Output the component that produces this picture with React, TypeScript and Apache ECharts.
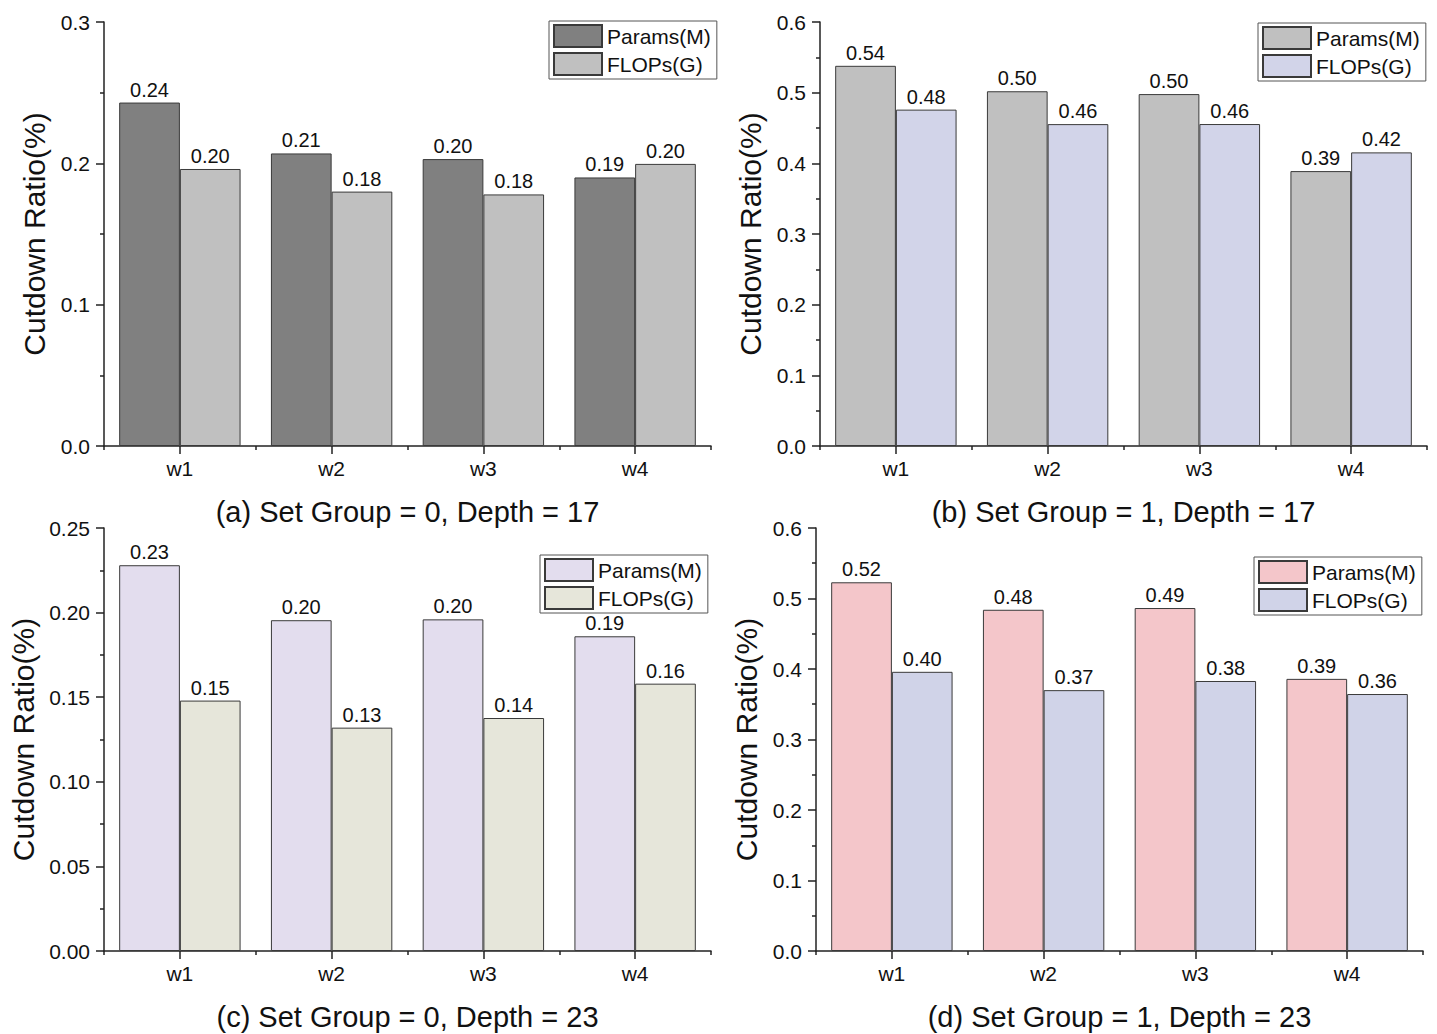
import React, { useEffect, useRef } from "react";
import * as echarts from "echarts";

const FONT = "'Liberation Sans', Arial, sans-serif";

const categories = ["w1", "w2", "w3", "w4"];
const seriesNames = ["Params(M)", "FLOPs(G)"];

const paramsA = [0.243, 0.207, 0.203, 0.19];
const flopsA = [0.196, 0.18, 0.178, 0.1996];
const paramsB = [0.538, 0.502, 0.498, 0.389];
const flopsB = [0.476, 0.4555, 0.4556, 0.4155];
const paramsC = [0.228, 0.1955, 0.196, 0.186];
const flopsC = [0.148, 0.132, 0.1377, 0.158];
const paramsD = [0.523, 0.484, 0.4865, 0.386];
const flopsD = [0.396, 0.37, 0.383, 0.3645];

const titles = [
  "(a) Set Group = 0, Depth = 17",
  "(b) Set Group = 1, Depth = 17",
  "(c) Set Group = 0, Depth = 23",
  "(d) Set Group = 1, Depth = 23",
];

type Panel = {
  left: number; top: number; width: number; height: number;
  gridLeft: number; gridTop: number; gridHeight: number;
  max: number; interval: number; decimals: number; nameGap: number;
  legendLeft: number; legendTop: number; titleY: number;
  colors: string[]; params: number[]; flops: number[]; title: string;
};

const panels: Panel[] = [
  { left: 0, top: 0, width: 718, height: 535, gridLeft: 104, gridTop: 22, gridHeight: 424, max: 0.3, interval: 0.1, decimals: 1, nameGap: 52,
    legendLeft: 549, legendTop: 21, titleY: 512, colors: ["#808080", "#c0c0c0"], params: paramsA, flops: flopsA, title: titles[0] },
  { left: 718, top: 0, width: 719, height: 535, gridLeft: 102, gridTop: 22, gridHeight: 424, max: 0.6, interval: 0.1, decimals: 1, nameGap: 50,
    legendLeft: 540, legendTop: 23, titleY: 512, colors: ["#c0c0c0", "#d2d4e9"], params: paramsB, flops: flopsB, title: titles[1] },
  { left: 0, top: 500, width: 718, height: 534, gridLeft: 104, gridTop: 28, gridHeight: 423, max: 0.25, interval: 0.05, decimals: 2, nameGap: 62,
    legendLeft: 540, legendTop: 55, titleY: 1017, colors: ["#e3ddee", "#e6e6da"], params: paramsC, flops: flopsC, title: titles[2] },
  { left: 718, top: 500, width: 719, height: 534, gridLeft: 98, gridTop: 28, gridHeight: 423, max: 0.6, interval: 0.1, decimals: 1, nameGap: 51,
    legendLeft: 536, legendTop: 57, titleY: 1017, colors: ["#f4c6ca", "#d0d3e8"], params: paramsD, flops: flopsD, title: titles[3] },
];

const AXIS_COLOR = "#222";
const TEXT_COLOR = "#111";

function buildOption(p: Panel) {
  const gridWidth = 607;
  const lineStyle = { color: AXIS_COLOR, width: 1.5 };
  const makeSeries = (name: string, data: number[], color: string) => ({
    type: "bar",
    name,
    data,
    barGap: "0%",
    barCategoryGap: "20%",
    itemStyle: { color, borderColor: "#3a3a3a", borderWidth: 1 },
    label: {
      show: true,
      position: "top",
      distance: 3,
      fontSize: 20,
      fontFamily: FONT,
      color: TEXT_COLOR,
      formatter: (q: any) => Number(q.value).toFixed(2),
    },
  });
  return {
    animation: false,
    textStyle: { fontFamily: FONT },
    grid: { left: p.gridLeft, top: p.gridTop, width: gridWidth, height: p.gridHeight },
    legend: {
      orient: "vertical",
      left: p.legendLeft,
      top: p.legendTop,
      data: seriesNames,
      itemWidth: 48,
      itemHeight: 22,
      itemGap: 4,
      padding: [3, 6, 3, 4],
      borderColor: "#555",
      borderWidth: 1,
      textStyle: { fontSize: 21, color: TEXT_COLOR, fontFamily: FONT },
      icon: "rect",
    },
    xAxis: [
      {
        type: "category",
        data: categories,
        axisLine: { show: true, lineStyle },
        axisTick: { show: true, alignWithLabel: true, length: 8, lineStyle },
        axisLabel: { fontSize: 21, color: TEXT_COLOR, margin: 12, fontFamily: FONT },
        splitLine: { show: false },
      },
      {
        type: "category",
        data: categories,
        position: "bottom",
        offset: 0,
        axisLine: { show: false },
        axisTick: { show: true, length: 4, lineStyle },
        axisLabel: { show: false },
        splitLine: { show: false },
      },
    ],
    yAxis: {
      type: "value",
      min: 0,
      max: p.max,
      interval: p.interval,
      name: "Cutdown Ratio(%)",
      nameLocation: "middle",
      nameGap: p.nameGap,
      nameTextStyle: { fontSize: 30, color: TEXT_COLOR, fontFamily: FONT },
      axisLine: { show: true, lineStyle },
      axisTick: { show: true, length: 8, lineStyle },
      minorTick: { show: true, splitNumber: 2, length: 4, lineStyle },
      splitLine: { show: false },
      minorSplitLine: { show: false },
      axisLabel: {
        fontSize: 21,
        color: TEXT_COLOR,
        margin: 14,
        fontFamily: FONT,
        formatter: (v: number) => v.toFixed(p.decimals),
      },
    },
    series: [
      makeSeries(seriesNames[0], p.params, p.colors[0]),
      makeSeries(seriesNames[1], p.flops, p.colors[1]),
    ],
    graphic: [
      {
        type: "text",
        x: p.gridLeft + gridWidth / 2,
        y: p.titleY - p.top,
        style: {
          text: p.title,
          fontSize: 29,
          fontFamily: FONT,
          fill: TEXT_COLOR,
          textAlign: "center",
          textVerticalAlign: "middle",
        },
      },
    ],
  };
}

function ChartPanel({ panel }: { panel: Panel }) {
  const ref = useRef<HTMLDivElement>(null);
  useEffect(() => {
    if (!ref.current) return;
    const chart = echarts.init(ref.current, undefined, { renderer: "svg" });
    chart.setOption(buildOption(panel) as any);
    return () => chart.dispose();
  }, [panel]);
  return (
    <div
      ref={ref}
      style={{ position: "absolute", left: panel.left, top: panel.top, width: panel.width, height: panel.height }}
    />
  );
}

export default function App() {
  return (
    <div style={{ position: "fixed", left: 0, top: 0, width: 1437, height: 1034, background: "#fff" }}>
      {panels.map((p, i) => (
        <ChartPanel key={i} panel={p} />
      ))}
    </div>
  );
}
